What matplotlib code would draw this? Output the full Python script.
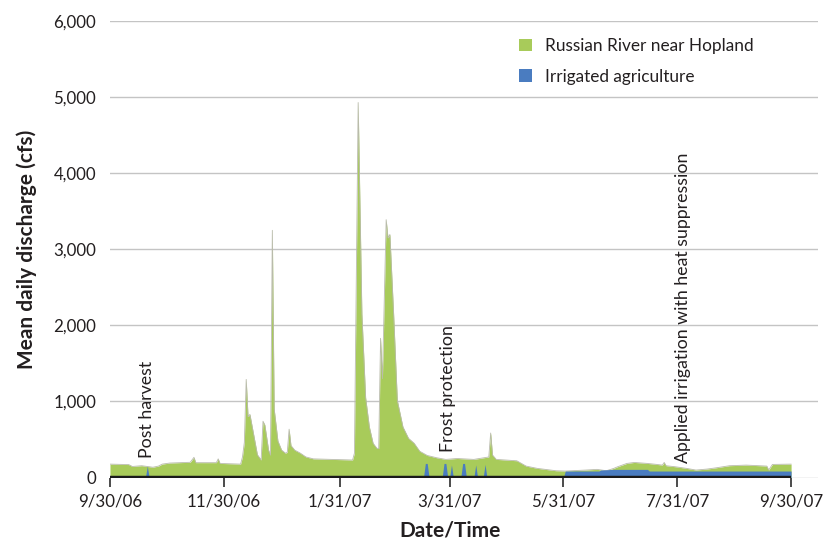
import matplotlib
matplotlib.use('Agg')
import matplotlib.pyplot as plt
from matplotlib.patches import Patch
import pandas as pd

plt.rcParams['font.family'] = ['Lato', 'DejaVu Sans']

# Russian River near Hopland, mean daily discharge (cfs)
river_dates = ['2006-09-30', '2006-10-10', '2006-10-12', '2006-10-17', '2006-10-23',
               '2006-10-26', '2006-10-28', '2006-11-01', '2006-11-12', '2006-11-14',
               '2006-11-15', '2006-11-26', '2006-11-27', '2006-11-28', '2006-12-09',
               '2006-12-10', '2006-12-11', '2006-12-12', '2006-12-13', '2006-12-14',
               '2006-12-18', '2006-12-20', '2006-12-21', '2006-12-22', '2006-12-24',
               '2006-12-25', '2006-12-26', '2006-12-27', '2006-12-29', '2006-12-31',
               '2007-01-02', '2007-01-03', '2007-01-04', '2007-01-05', '2007-01-07',
               '2007-01-10', '2007-01-13', '2007-01-17', '2007-01-31', '2007-02-07',
               '2007-02-08', '2007-02-10', '2007-02-12', '2007-02-14', '2007-02-16',
               '2007-02-18', '2007-02-20', '2007-02-21', '2007-02-22', '2007-02-23',
               '2007-02-25', '2007-02-26', '2007-02-27', '2007-03-01', '2007-03-03',
               '2007-03-06', '2007-03-09', '2007-03-12', '2007-03-15', '2007-03-19',
               '2007-03-24', '2007-03-29', '2007-04-04', '2007-04-13', '2007-04-21',
               '2007-04-22', '2007-04-23', '2007-04-25', '2007-05-06', '2007-05-11',
               '2007-05-17', '2007-05-27', '2007-06-01', '2007-06-12', '2007-06-18',
               '2007-06-23', '2007-06-27', '2007-06-29', '2007-07-04', '2007-07-08',
               '2007-07-15', '2007-07-20', '2007-07-23', '2007-07-24', '2007-07-25',
               '2007-07-30', '2007-08-05', '2007-08-10', '2007-08-16', '2007-08-21',
               '2007-08-28', '2007-09-06', '2007-09-13', '2007-09-17', '2007-09-18',
               '2007-09-20', '2007-09-30']
river_cfs = [176, 170, 145, 155, 135,
             150, 176, 190, 200, 265,
             195, 195, 245, 185, 176,
             270, 460, 1290, 800, 830,
             300, 230, 740, 690, 360,
             295, 3250, 900, 480, 360,
             320, 330, 635, 420, 360,
             320, 270, 245, 235, 230,
             320, 4930, 2150, 1050, 665,
             450, 385, 380, 1830, 1300,
             3390, 3150, 3195, 2150, 1010,
             665, 515, 450, 345, 290,
             260, 238, 250, 238, 270,
             585, 295, 238, 220, 150,
             120, 89, 85, 98, 107,
             89, 120, 141, 185, 198,
             185, 172, 163, 198, 155,
             141, 120, 98, 111, 128,
             155, 163, 155, 150, 98,
             172, 176]

# Irrigated agriculture diversions (cfs)
irr_dates = ['2006-09-30', '2006-10-19', '2006-10-20', '2006-10-21', '2007-03-01',
             '2007-03-02', '2007-03-03', '2007-03-11', '2007-03-12', '2007-03-13',
             '2007-03-17', '2007-03-18', '2007-03-19', '2007-03-20', '2007-03-27',
             '2007-03-28', '2007-03-29', '2007-03-30', '2007-03-31', '2007-04-01',
             '2007-04-02', '2007-04-06', '2007-04-07', '2007-04-08', '2007-04-09',
             '2007-04-13', '2007-04-14', '2007-04-15', '2007-04-18', '2007-04-19',
             '2007-04-20', '2007-05-31', '2007-06-01', '2007-06-19', '2007-06-20',
             '2007-06-27', '2007-07-15', '2007-07-16', '2007-09-30']
irr_cfs = [0, 0, 150, 0, 0,
           25, 0, 0, 25, 0,
           0, 185, 185, 0, 0,
           185, 185, 0, 0, 165,
           0, 0, 185, 185, 0,
           0, 165, 0, 0, 172,
           0, 0, 85, 85, 98,
           107, 107, 85, 85]

tick_dates = ['2006-09-30', '2006-11-30', '2007-01-31', '2007-03-31',
              '2007-05-31', '2007-07-31', '2007-09-30']
tick_labels = ['9/30/06', '11/30/06', '1/31/07', '3/31/07', '5/31/07', '7/31/07', '9/30/07']
y_ticks = [0, 1000, 2000, 3000, 4000, 5000, 6000]

notes = ['Post harvest', 'Frost protection', 'Applied irrigation with heat suppression']
note_dates = ['2006-10-20', '2007-03-30', '2007-08-03']
note_cfs = [250, 340, 190]

green = '#a8cb5a'
blue = '#4a7cc0'
ink = '#231f20'

rd = pd.to_datetime(river_dates)
idt = pd.to_datetime(irr_dates)

fig = plt.figure(figsize=(8.3, 5.42), dpi=100)
ax = fig.add_axes([0.1325, 0.119, 0.853, 0.842])

ax.fill_between(rd, river_cfs, 0, color=green, lw=0, zorder=2)
ax.plot(rd, river_cfs, color='#b9bbab', lw=0.6, zorder=2)
ax.fill_between(idt, irr_cfs, 0, color=blue, lw=0, zorder=3)
ax.plot([rd[0], rd[-1]], [0, 0], color='#1a1a1a', lw=3.2, solid_capstyle='butt', zorder=4)

ax.set_ylim(0, 6000)
ax.set_xlim(rd[0], rd[0] + pd.Timedelta(days=379.4))
ax.set_yticks(y_ticks)
ax.set_yticklabels([f'{v:,}' for v in y_ticks])
ax.set_xticks(pd.to_datetime(tick_dates))
ax.set_xticklabels(tick_labels)
ax.grid(axis='y', color='#c4c4c4', lw=1.0, zorder=0)
ax.set_axisbelow(True)
for s in ax.spines.values():
    s.set_visible(False)

ax.tick_params(axis='y', length=0, pad=10, labelsize=12.2, labelcolor=ink)
ax.tick_params(axis='x', length=6.5, width=1.1, color='#1a1a1a', pad=5,
               labelsize=12.2, labelcolor=ink)

ax.set_ylabel('Mean daily discharge (cfs)', fontsize=15, fontweight='bold',
              color=ink)
ax.yaxis.set_label_coords(-0.103, 0.5)
ax.set_xlabel('Date/Time', fontsize=15, fontweight='bold', color=ink)
ax.xaxis.set_label_coords(0.48, -0.095)

for txt, d, v in zip(notes, note_dates, note_cfs):
    ax.text(pd.Timestamp(d), v, txt, rotation=90, ha='center', va='bottom',
            fontsize=12.8, color=ink, zorder=5)

handles = [Patch(facecolor=green, edgecolor='none', label='Russian River near Hopland'),
           Patch(facecolor=blue, edgecolor='none', label='Irrigated agriculture')]
ax.legend(handles=handles, loc='upper left', bbox_to_anchor=(0.556, 0.997),
          frameon=False, fontsize=12.4, handlelength=0.75, handleheight=0.75,
          handletextpad=0.75, labelspacing=0.85, labelcolor=ink)

fig.savefig('out.png', dpi=100)
